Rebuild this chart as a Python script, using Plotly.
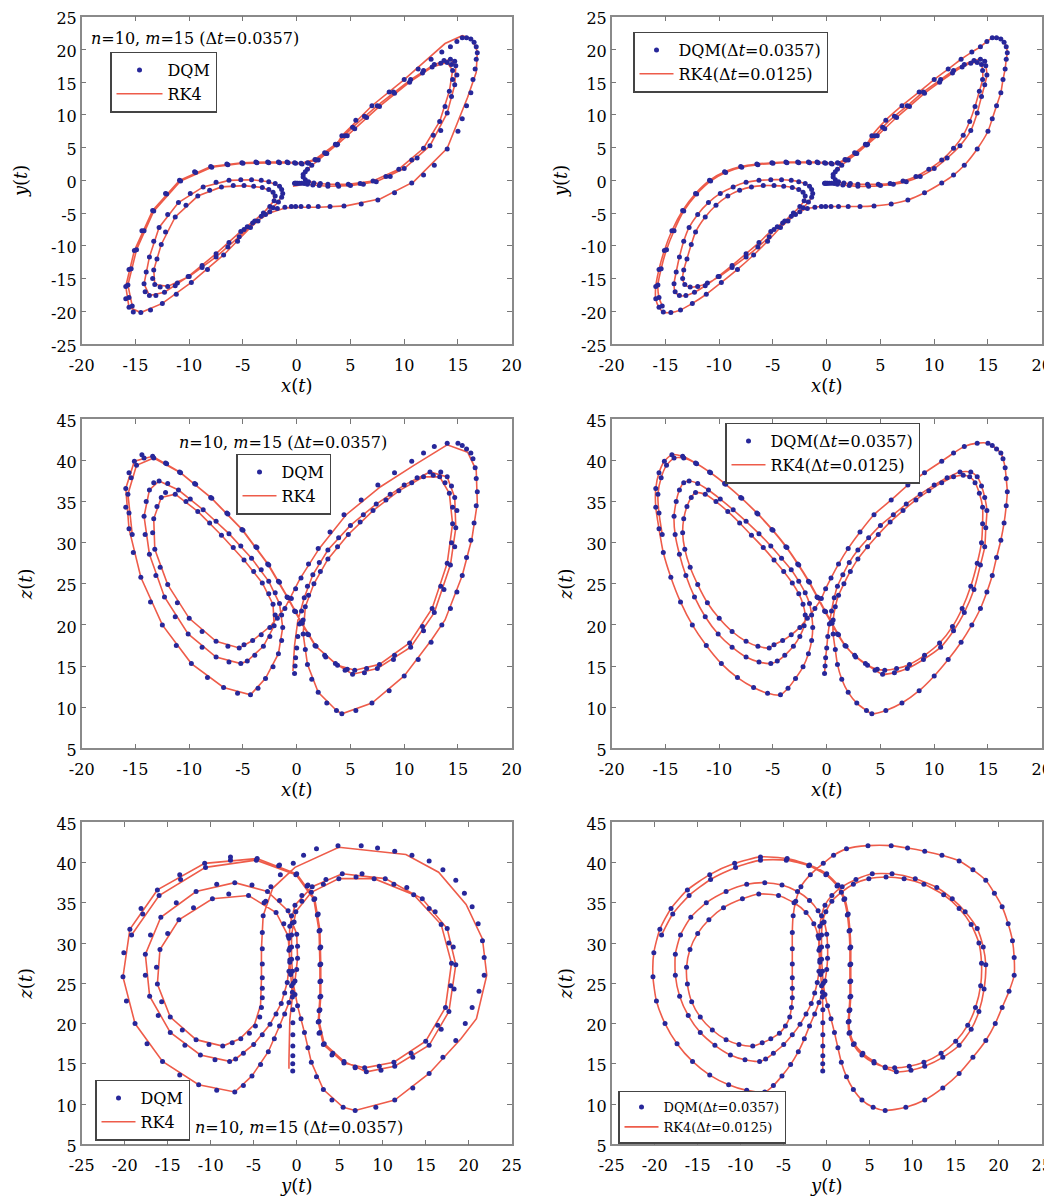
import plotly.graph_objects as go

# ---------------- data ----------------
# DQM trajectory (x, y, z); the fine RK4 run (right column) follows the same path
x_dqm = [
    # left wing, first (partial) loop
    -15.3, -15.6, -15.7, -15.4, -14.9, -14.2, -13.3, -12.1, -10.8, -9.4, -7.9, -6.4, -5.0, -3.7, -2.6, -1.6, -0.8, -0.1, 0.5, 1.1, 1.8, 2.7, 3.8, 4.7,
    # right wing loop a
    5.4, 6.5, 7.7, 9.1, 10.5, 11.7, 12.6, 13.4, 14.0, 14.4, 14.5, 14.5, 14.2, 13.8, 13.3, 12.7, 11.8, 10.7, 9.5, 8.3, 7.1, 5.9, 4.8, 3.8, 2.9, 2.2, 1.6, 1.1, 0.8, 0.6, 0.6, 0.8, 1.0, 1.4, 2.0, 2.8, 3.7,
    # right wing outer loop
    4.2, 5.5, 7.0, 8.6, 10.0, 11.3, 12.5, 13.5, 14.3, 14.9, 15.4, 15.8, 16.2, 16.5, 16.7, 16.8, 16.7, 16.6, 16.4, 16.2, 15.8, 15.4, 15.0, 14.0, 12.8, 11.8, 10.7, 9.1, 7.55, 6.0, 4.4, 3.1, 2.0, 1.1, 0.4, -0.1, -0.5, -1.1, -1.8, -2.5, -3.3, -4.1, -4.9,
    # left wing loop a
    -5.35, -6.4, -7.5, -8.8, -10.0, -11.1, -12.0, -12.7, -13.2, -13.4, -13.3, -13.0, -12.6, -12.2, -11.3, -10.3, -9.2, -8.1, -7.0, -5.9, -4.9, -4.0, -3.2, -2.6, -2.2, -2.0, -2.1, -2.5, -3.1, -3.9, -4.6,
    # left wing loop b
    -5.2, -6.3, -7.5, -8.8, -10.1, -11.3, -12.3, -13.1, -13.7, -14.1, -14.2, -14.0, -13.7, -13.3, -12.8, -12.0, -11.0, -9.9, -8.7, -7.5, -6.3, -5.2, -4.2, -3.3, -2.6, -2.0, -1.6, -1.4, -1.3, -1.4, -1.7, -2.2, -2.9, -3.6,
    # left wing loop c
    -4.3, -5.5, -6.8, -8.3, -9.8, -11.2, -12.5, -13.6, -14.5, -15.2, -15.6, -15.9, -15.9, -15.6, -15.1, -14.4, -13.4, -12.2, -10.9, -9.5, -8.0, -6.5, -5.1, -3.8, -2.7, -1.7, -0.9, -0.2, 0.4, 1.0, 1.7, 2.6, 3.6, 4.5,
    # right wing loop b and end
    5.2, 6.3, 7.5, 9.0, 10.6, 11.8, 12.8, 13.7, 14.3, 14.7, 14.8, 14.9, 14.7, 14.4, 14.0, 13.4, 12.4, 11.2, 10.0, 8.7, 7.4, 6.2, 5.0, 3.9, 2.9, 2.1, 1.5, 1.0, 0.7, 0.45, 0.25, 0.1, 0.0, -0.1, -0.15, -0.2,
]
y_dqm = [
    -19.2, -17.9, -16.0, -13.5, -10.6, -7.7, -4.7, -2.1, -0.1, 1.2, 2.0, 2.4, 2.6, 2.7, 2.7, 2.7, 2.7, 2.6, 2.5, 2.6, 3.1, 4.1, 5.5, 6.8,
    7.9, 9.6, 11.3, 13.3, 15.0, 16.4, 17.3, 17.9, 18.0, 17.7, 16.8, 15.4, 13.6, 11.3, 9.0, 6.9, 4.9, 3.1, 1.7, 0.6, -0.1, -0.5, -0.6, -0.6, -0.6, -0.5, -0.4, -0.2, 0.1, 0.5, 0.9, 1.3, 1.7, 2.3, 3.1, 4.1, 5.4,
    6.8, 9.2, 11.4, 13.5, 15.4, 17.0, 18.5, 19.6, 20.4, 21.2, 21.8, 21.8, 21.6, 21.1, 20.4, 19.5, 18.5, 17.0, 15.4, 13.4, 11.4, 9.4, 7.5, 4.8, 2.3, 0.8, -0.4, -1.9, -3.0, -3.6, -3.9, -4.0, -4.0, -4.0, -4.0, -4.0, -4.0, -4.1, -4.3, -4.8, -5.5, -6.5, -7.5,
    -8.6, -10.2, -11.7, -13.3, -14.7, -15.7, -16.2, -16.3, -15.9, -15.0, -13.7, -12.0, -9.8, -7.9, -5.6, -3.8, -2.4, -1.5, -1.0, -0.8, -0.8, -0.9, -1.1, -1.4, -1.8, -2.4, -3.1, -4.0, -5.0, -6.2, -7.1,
    -7.8, -9.5, -11.2, -13.0, -14.7, -16.1, -17.1, -17.6, -17.6, -17.0, -15.8, -14.0, -11.7, -9.3, -7.2, -5.2, -3.4, -2.0, -1.0, -0.3, 0.0, 0.1, 0.1, 0.0, -0.2, -0.5, -0.9, -1.4, -2.0, -2.6, -3.3, -4.2, -5.2, -6.2,
    -7.2, -9.3, -11.4, -13.6, -15.6, -17.4, -18.8, -19.8, -20.2, -20.1, -19.4, -18.1, -16.2, -13.6, -10.7, -7.7, -4.6, -2.0, 0.0, 1.3, 2.1, 2.5, 2.7, 2.8, 2.8, 2.8, 2.8, 2.7, 2.6, 2.7, 3.2, 4.2, 5.5, 6.8,
    8.1, 9.8, 11.4, 13.5, 15.4, 16.8, 17.7, 18.3, 18.5, 18.2, 17.5, 16.1, 14.6, 12.8, 10.3, 7.6, 5.3, 3.4, 1.8, 0.6, -0.2, -0.6, -0.8, -0.9, -0.9, -0.8, -0.7, -0.6, -0.5, -0.45, -0.45, -0.45, -0.45, -0.45, -0.46, -0.46,
]
z_dqm = [
    31.0, 33.6, 35.9, 37.9, 39.4, 40.3, 40.3, 39.6, 38.5, 37.1, 35.4, 33.5, 31.5, 29.4, 27.3, 25.2, 23.3, 21.6, 20.2, 18.8, 17.4, 16.1, 15.1, 14.6,
    14.5, 14.7, 15.2, 16.3, 17.8, 19.8, 22.0, 24.7, 27.5, 30.0, 32.3, 34.3, 36.0, 37.3, 38.0, 38.2, 38.0, 37.3, 36.3, 35.2, 33.9, 32.5, 31.0, 29.5, 28.0, 26.5, 25.0, 23.6, 22.2, 20.6, 18.9, 17.0, 15.2, 13.4, 11.8, 10.5, 9.6,
    9.2, 9.6, 10.5, 12.0, 13.8, 15.8, 17.9, 20.0, 22.0, 24.0, 26.0, 28.2, 30.3, 32.4, 34.5, 36.2, 37.8, 39.1, 40.2, 40.9, 41.4, 41.8, 42.1, 42.1, 41.7, 40.9, 39.9, 38.5, 37.0, 35.2, 33.4, 31.3, 29.3, 27.4, 25.7, 24.4, 23.2, 22.0, 20.8, 19.7, 18.8, 18.1, 17.6,
    17.2, 17.4, 18.0, 19.2, 20.8, 22.7, 24.9, 27.0, 29.2, 31.2, 32.9, 34.4, 35.5, 36.1, 35.9, 35.0, 33.8, 32.4, 30.9, 29.4, 27.9, 26.5, 25.1, 23.8, 22.5, 21.2, 19.9, 18.6, 17.4, 16.3, 15.6,
    15.3, 15.5, 16.1, 17.3, 18.9, 21.0, 23.4, 26.0, 28.6, 31.0, 33.2, 35.0, 36.4, 37.3, 37.5, 37.2, 36.4, 35.3, 34.0, 32.6, 31.1, 29.6, 28.1, 26.7, 25.3, 23.9, 22.6, 21.2, 19.7, 18.1, 16.5, 14.9, 13.5, 12.3,
    11.5, 11.7, 12.4, 13.6, 15.3, 17.5, 20.0, 22.8, 25.8, 28.8, 31.7, 34.3, 36.6, 38.5, 39.9, 40.7, 40.5, 39.7, 38.6, 37.2, 35.5, 33.6, 31.6, 29.5, 27.4, 25.3, 23.4, 21.7, 20.3, 18.9, 17.5, 16.3, 15.3, 14.5,
    14.0, 14.2, 14.7, 15.8, 17.3, 19.3, 21.5, 24.3, 27.3, 29.5, 31.8, 33.9, 35.5, 36.9, 38.0, 38.6, 38.6, 37.9, 37.0, 35.9, 34.7, 33.4, 32.1, 30.6, 29.1, 27.6, 26.1, 24.7, 23.3, 21.7, 20.1, 18.6, 17.2, 16.0, 15.0, 14.1,
]

# coarse RK4 run (dt = 0.0357), left column
x_rk4c = [
    -15.3, -15.7, -14.9, -13.3, -10.8, -7.9, -5.0, -2.6, -0.8, 0.5, 1.8, 3.8,
    5.4, 7.7, 10.5, 12.6, 14.0, 14.5, 14.2, 13.3, 11.8, 9.5, 7.1, 4.8, 2.9, 1.6, 0.8, 0.6, 1.0, 2.0, 3.7,
    4.2, 7.0, 10.0, 12.5, 13.8, 15.4, 16.3, 16.8, 16.7, 15.9, 14.0, 10.9, 7.8, 4.6, 2.1, 0.3, -1.0, -2.4, -4.1,
    -5.35, -7.5, -10.0, -12.0, -13.2, -13.3, -12.6, -11.3, -9.2, -7.0, -4.9, -3.2, -2.2, -2.1, -3.1, -4.6,
    -5.2, -7.5, -10.1, -12.3, -13.7, -14.2, -13.7, -12.8, -11.0, -8.7, -6.3, -4.2, -2.6, -1.6, -1.3, -1.7, -2.9,
    -4.3, -6.8, -9.8, -12.5, -14.5, -15.6, -15.9, -15.1, -13.4, -10.9, -8.0, -5.1, -2.7, -0.9, 0.4, 1.7, 3.6,
    5.2, 7.5, 10.6, 12.8, 14.3, 14.8, 14.7, 14.0, 12.4, 10.0, 7.4, 5.0, 2.9, 1.5, 0.7, 0.1, -0.2, -0.3, -0.35,
]
y_rk4c = [
    -19.2, -16.0, -10.6, -4.7, -0.1, 2.0, 2.6, 2.7, 2.7, 2.5, 3.1, 5.5,
    7.9, 11.3, 15.0, 17.3, 18.0, 16.8, 13.6, 9.0, 4.9, 1.7, -0.1, -0.6, -0.6, -0.4, 0.1, 0.9, 1.7, 3.1, 5.4,
    6.8, 11.4, 15.4, 19.1, 20.9, 22.1, 21.6, 19.7, 16.5, 12.7, 4.9, -0.2, -2.8, -3.9, -4.1, -4.1, -4.2, -4.9, -6.6,
    -8.6, -11.7, -14.7, -16.2, -15.9, -13.7, -9.8, -5.6, -2.4, -1.0, -0.8, -1.1, -1.8, -3.1, -5.0, -7.1,
    -7.8, -11.2, -14.7, -17.1, -17.6, -15.8, -11.7, -7.2, -3.4, -1.0, 0.0, 0.1, -0.2, -0.9, -2.0, -3.3, -5.2,
    -7.2, -11.4, -15.6, -18.8, -20.2, -19.4, -16.2, -10.7, -4.6, 0.0, 2.1, 2.7, 2.8, 2.8, 2.6, 3.2, 5.5,
    8.1, 11.4, 15.4, 17.7, 18.5, 17.5, 14.6, 10.3, 5.3, 1.8, -0.2, -0.8, -0.9, -0.7, -0.5, -0.8, -0.9, -0.9, -0.9,
]
z_rk4c = [
    31.0, 35.9, 39.4, 40.3, 38.5, 35.4, 31.5, 27.3, 23.3, 20.2, 17.4, 15.1,
    14.5, 15.2, 17.8, 22.0, 27.5, 32.3, 36.0, 38.0, 38.0, 36.3, 33.9, 31.0, 28.0, 25.0, 22.2, 18.9, 15.2, 11.8, 9.6,
    9.2, 10.5, 13.8, 18.1, 20.6, 26.0, 30.5, 34.8, 38.8, 41.0, 41.9, 39.4, 36.8, 33.4, 29.3, 25.6, 22.3, 19.9, 18.1,
    17.2, 18.0, 20.8, 24.9, 29.2, 32.9, 35.5, 35.9, 33.8, 30.9, 27.9, 25.1, 22.5, 19.9, 17.4, 15.6,
    15.3, 16.1, 18.9, 23.4, 28.6, 33.2, 36.4, 37.5, 36.4, 34.0, 31.1, 28.1, 25.3, 22.6, 19.7, 16.5, 13.5,
    11.5, 12.4, 15.3, 20.0, 25.8, 31.7, 36.6, 39.9, 40.5, 38.6, 35.5, 31.6, 27.4, 23.4, 20.3, 17.5, 15.3,
    14.0, 14.7, 17.3, 21.5, 27.3, 31.8, 35.5, 38.0, 38.6, 37.0, 34.7, 32.1, 29.1, 26.1, 23.3, 20.5, 17.5, 15.5, 14.4,
]

# tick values / labels
ticks_x = [-20, -15, -10, -5, 0, 5, 10, 15, 20]
ticks_y = [-25, -20, -15, -10, -5, 0, 5, 10, 15, 20, 25]
ticks_z = [5, 10, 15, 20, 25, 30, 35, 40, 45]
lab_x = ["-20", "-15", "-10", "-5", "0", "5", "10", "15", "20"]
lab_y = ["-25", "-20", "-15", "-10", "-5", "0", "5", "10", "15", "20", "25"]
lab_z = ["5", "10", "15", "20", "25", "30", "35", "40", "45"]

names_left = ["DQM", "RK4"]
names_right = ["DQM(Δ<i>t</i>=0.0357)", "RK4(Δ<i>t</i>=0.0125)"]
note = "<i>n</i>=10, <i>m</i>=15 (Δ<i>t</i>=0.0357)"

# ---------------- styling ----------------
RED = "#ee5c4a"
BLUE = "#27279a"
FONT = "DejaVu Serif"
W, H = 1052, 1199
OFF = 8  # page body margin


def fx(px):
    return (px - OFF) / W


def fy(py):
    return 1 - (py - OFF) / H


col_dom = [[fx(81.7), fx(511.7)], [fx(611.7), fx(1041.7)]]
row_dom = [[fy(344), fy(16.7)], [fy(748.3), fy(419.3)], [fy(1144.3), fy(822.3)]]

fig = go.Figure()

panels = [
    (1, 0, 0, x_dqm, y_dqm, x_rk4c, y_rk4c, True, "x", "y", ticks_x, lab_x, [-20, 20], ticks_y, lab_y, [-25, 25]),
    (2, 0, 1, x_dqm, y_dqm, x_dqm, y_dqm, False, "x", "y", ticks_x, lab_x, [-20, 20], ticks_y, lab_y, [-25, 25]),
    (3, 1, 0, x_dqm, z_dqm, x_rk4c, z_rk4c, True, "x", "z", ticks_x, lab_x, [-20, 20], ticks_z, lab_z, [5, 45]),
    (4, 1, 1, x_dqm, z_dqm, x_dqm, z_dqm, False, "x", "z", ticks_x, lab_x, [-20, 20], ticks_z, lab_z, [5, 45]),
    (5, 2, 0, y_dqm, z_dqm, y_rk4c, z_rk4c, True, "y", "z", ticks_y, lab_y, [-25, 25], ticks_z, lab_z, [5, 45]),
    (6, 2, 1, y_dqm, z_dqm, y_dqm, z_dqm, False, "y", "z", ticks_y, lab_y, [-25, 25], ticks_z, lab_z, [5, 45]),
]

# legend box: left edge, vertical centre (reference pixels), font size, item width
legend_pos = {
    1: (110, 82, 16, 46),
    2: (633, 62, 16, 34),
    3: (236, 484, 16, 34),
    4: (725, 453, 16, 34),
    5: (95, 1110, 16, 34),
    6: (618, 1117, 13, 34),
}

layout = dict(
    width=W, height=H, margin=dict(l=0, r=0, t=0, b=0),
    paper_bgcolor="white", plot_bgcolor="white", showlegend=True,
)

for (i, r, c, hx, hy, rx, ry, coarse, xt, yt, xtv, xtl, xr, ytv, ytl, yr) in panels:
    xa = "x" if i == 1 else f"x{i}"
    ya = "y" if i == 1 else f"y{i}"
    leg = "legend" if i == 1 else f"legend{i}"
    names = names_left if coarse else names_right
    fig.add_trace(go.Scatter(
        x=rx, y=ry, mode="lines", name=names[1], legend=leg, legendrank=2,
        line=dict(color=RED, width=1.6, shape="linear" if coarse else "spline", smoothing=0.6),
        xaxis=xa, yaxis=ya, hoverinfo="skip"))
    fig.add_trace(go.Scatter(
        x=hx, y=hy, mode="markers", name=names[0], legend=leg, legendrank=1,
        marker=dict(color=BLUE, size=5),
        xaxis=xa, yaxis=ya, hoverinfo="skip"))

    common = dict(
        ticks="inside", ticklen=5, tickwidth=1, tickcolor="#777",
        showline=True, linecolor="#8a8a8a", linewidth=1.5, mirror="ticks",
        showgrid=False, zeroline=False, automargin=False, ticklabeloverflow="allow",
        tickfont=dict(family=FONT, size=16, color="#000"),
    )
    layout["xaxis" if i == 1 else f"xaxis{i}"] = dict(
        common, domain=col_dom[c], anchor=ya, range=xr, tickvals=xtv, ticktext=xtl,
        ticklabelstandoff=6,
        title=dict(text=f"<i>{xt}</i>(<i>t</i>)", font=dict(family=FONT, size=18, color="#000"), standoff=1))
    layout["yaxis" if i == 1 else f"yaxis{i}"] = dict(
        common, domain=row_dom[r], anchor=xa, range=yr, tickvals=ytv, ticktext=ytl,
        ticklabelshift=2,
        title=dict(text=f"<i>{yt}</i>(<i>t</i>)", font=dict(family=FONT, size=18, color="#000"),
                   standoff=19 if c == 0 else 9))

    lx, ly, fs, iw = legend_pos[i]
    layout[leg] = dict(
        x=fx(lx), y=fy(ly), xanchor="left", yanchor="middle",
        bgcolor="white", bordercolor="#444", borderwidth=1.5,
        font=dict(family=FONT, size=fs, color="#000"),
        itemwidth=iw, tracegroupgap=0, traceorder="normal")

ann_font = dict(family=FONT, size=16, color="#000")
layout["annotations"] = [
    dict(text=note, x=fx(195), y=fy(38), xref="paper", yref="paper", showarrow=False,
         xanchor="center", yanchor="middle", font=ann_font),
    dict(text=note, x=fx(283), y=fy(443), xref="paper", yref="paper", showarrow=False,
         xanchor="center", yanchor="middle", font=ann_font),
    dict(text=note, x=fx(299), y=fy(1127), xref="paper", yref="paper", showarrow=False,
         xanchor="center", yanchor="middle", font=ann_font),
]

fig.update_layout(**layout)
fig.write_html("out.html")
